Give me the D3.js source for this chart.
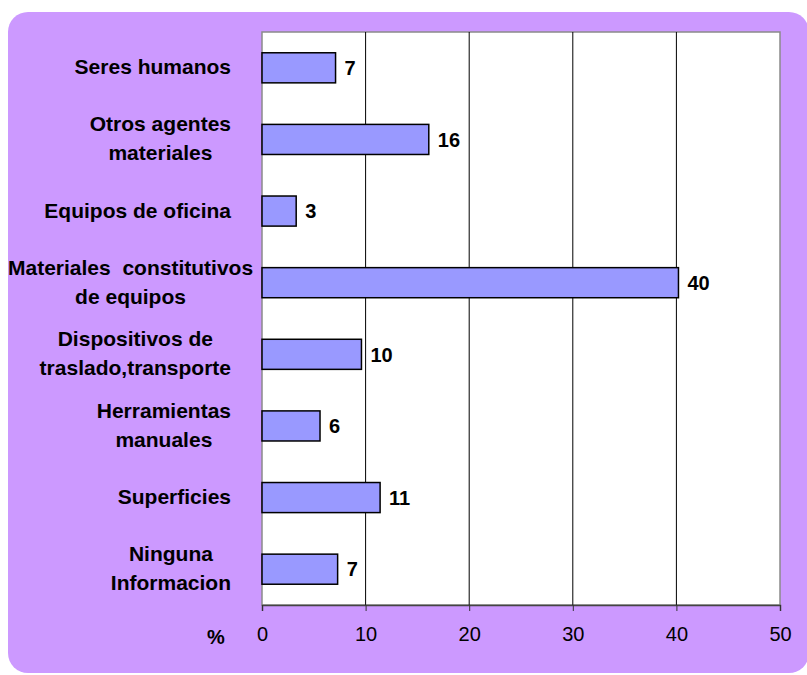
<!DOCTYPE html>
<html><head><meta charset="utf-8">
<script src="https://cdn.jsdelivr.net/npm/d3@7"></script>
<style>body{margin:0;background:#fff;} svg{display:block;font-family:"Liberation Sans",Arial,sans-serif;}</style>
</head><body>
<svg id="c" width="807" height="675"></svg>
<script>
const categories = [
  ["Seres humanos"],
  ["Otros agentes","materiales"],
  ["Equipos de oficina"],
  ["Materiales  constitutivos","de equipos"],
  ["Dispositivos de","traslado,transporte"],
  ["Herramientas","manuales"],
  ["Superficies"],
  ["Ninguna","Informacion"]
];
const values = [7.1, 16.1, 3.3, 40.2, 9.6, 5.6, 11.4, 7.3];
const valueLabels = ["7","16","3","40","10","6","11","7"];
const xTicks = [0, 10, 20, 30, 40, 50];
const axisTitle = "%";

const svg = d3.select("#c");
const plot = {left: 262, right: 780, top: 32, bottom: 605};

svg.append("rect").attr("x", 8).attr("y", 12).attr("width", 801).attr("height", 661)
  .attr("rx", 20).attr("ry", 20).attr("fill", "#CC99FF");

const x = d3.scaleLinear().domain([0, 50]).range([plot.left, plot.right]);
const y = d3.scaleBand().domain(d3.range(categories.length)).range([plot.top, plot.bottom])
  .paddingInner(0.58).paddingOuter(0.29);

svg.append("rect").attr("x", plot.left).attr("y", plot.top)
  .attr("width", plot.right - plot.left).attr("height", plot.bottom - plot.top)
  .attr("fill", "#fff").attr("stroke", "#8a8a8a").attr("stroke-width", 1.5);

// gridlines
svg.append("g").selectAll("line").data(xTicks.filter(t => t > 0 && t < 50)).join("line")
  .attr("x1", d => x(d)).attr("x2", d => x(d)).attr("y1", plot.top).attr("y2", plot.bottom)
  .attr("stroke", "#000").attr("stroke-width", 1);

// x axis
const xAxis = d3.axisBottom(x).tickValues(xTicks).tickSize(6).tickPadding(16).tickFormat(d3.format("d"));
const gx = svg.append("g").attr("transform", `translate(0,${plot.bottom})`).call(xAxis);
gx.select(".domain").attr("stroke", "#444").attr("stroke-width", 1.5);
gx.selectAll(".tick line").attr("stroke", "#333");
gx.selectAll(".tick text").attr("font-size", 20).attr("fill", "#000")
  .attr("font-family", "Liberation Sans, Arial, sans-serif");

svg.append("text").attr("x", 216).attr("y", 644).attr("text-anchor", "middle")
  .attr("font-size", 20).attr("font-weight", "bold").text(axisTitle);

// bars
svg.append("g").selectAll("rect").data(values).join("rect")
  .attr("x", x(0)).attr("y", (d, i) => y(i))
  .attr("width", d => x(d) - x(0)).attr("height", y.bandwidth())
  .attr("fill", "#9999FF").attr("stroke", "#000").attr("stroke-width", 1.5);

// value labels
svg.append("g").selectAll("text").data(values).join("text")
  .attr("x", d => x(d) + 9).attr("y", (d, i) => y(i) + y.bandwidth() / 2)
  .attr("dy", "0.36em").attr("font-size", 20).attr("font-weight", "bold")
  .text((d, i) => valueLabels[i]);

// category labels
const lineH = 29;
categories.forEach((lines, i) => {
  const cy = y(i) + y.bandwidth() / 2 - 1;
  const g = svg.append("g");
  const t = g.append("text").attr("font-size", 21).attr("font-weight", "bold")
    .attr("text-anchor", "middle").style("white-space", "pre");
  lines.forEach((ln, j) => {
    t.append("tspan").attr("x", 0)
      .attr("y", cy + (j - (lines.length - 1) / 2) * lineH)
      .attr("dy", "0.36em").text(ln);
  });
  const w = d3.max(t.selectAll("tspan").nodes(), n => n.getComputedTextLength());
  const cx = Math.max(231 - w / 2, 8 + w / 2);
  t.selectAll("tspan").attr("x", cx);
});
</script>
</body></html>
